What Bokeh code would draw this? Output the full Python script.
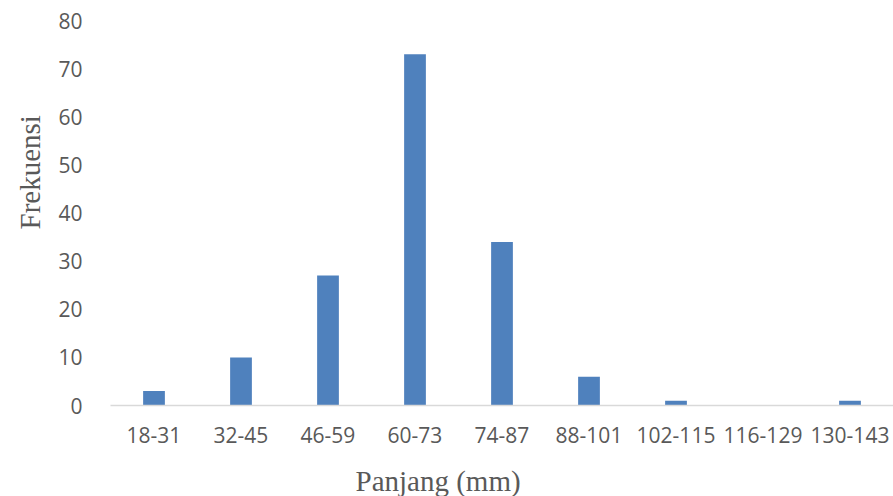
from bokeh.plotting import figure
from bokeh.models import FactorRange, Range1d, Title, ColumnDataSource
from bokeh.embed import file_html
from bokeh.resources import INLINE

categories = ["18-31", "32-45", "46-59", "60-73", "74-87", "88-101", "102-115", "116-129", "130-143"]
frekuensi = [3, 10, 27, 73, 34, 6, 1, 0, 1]
y_ticks = [0, 10, 20, 30, 40, 50, 60, 70, 80]
x_title = "Panjang (mm)"
y_title = "Frekuensi"

src = ColumnDataSource(dict(cat=categories, val=frekuensi))

p = figure(x_range=FactorRange(*categories, range_padding=0), y_range=Range1d(0, 80),
           width=893, height=496, output_backend="svg", toolbar_location=None,
           min_border_left=110, min_border_right=0, min_border_top=20, min_border_bottom=90)
p.outline_line_color = None
p.background_fill_color = "white"
p.border_fill_color = "white"

p.vbar(x="cat", top="val", width=0.25, source=src, fill_color="#4F81BD", line_color=None)

p.xgrid.grid_line_color = None
p.ygrid.grid_line_color = None

p.yaxis.ticker = y_ticks
p.yaxis.axis_line_color = None
p.yaxis.major_tick_line_color = None
p.yaxis.minor_tick_line_color = None
p.yaxis.major_label_text_font = "Open Sans"
p.yaxis.major_label_text_font_size = "21px"
p.yaxis.major_label_text_color = "#595959"
p.yaxis.major_label_standoff = 22

p.xaxis.axis_line_color = "#D9D9D9"
p.xaxis.axis_line_width = 1.5
p.xaxis.major_tick_line_color = None
p.xaxis.minor_tick_line_color = None
p.xaxis.major_label_text_font = "Open Sans"
p.xaxis.major_label_text_font_size = "21px"
p.xaxis.major_label_text_color = "#595959"
p.xaxis.major_label_standoff = 15
# invisible spacer label to push the title further down
p.xaxis.axis_label = " "
p.xaxis.axis_label_text_font_size = "10px"
p.xaxis.axis_label_standoff = 3

p.add_layout(Title(text=x_title, align="left", offset=245, text_font="Liberation Serif",
                   text_font_size="29px", text_font_style="normal", text_color="#595959",
                   standoff=0), "below")
p.add_layout(Title(text=y_title, align="left", offset=176, text_font="Liberation Serif",
                   text_font_size="29px", text_font_style="normal", text_color="#595959",
                   standoff=20), "left")

open("out.html", "w").write(file_html(p, INLINE))
